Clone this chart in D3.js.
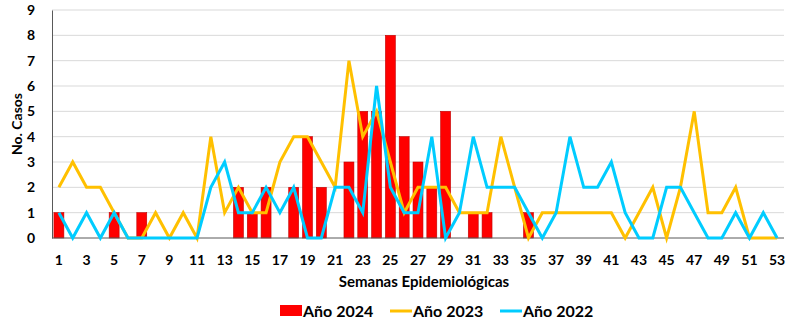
<!DOCTYPE html>
<html>
<head>
<meta charset="utf-8">
<script src="https://cdn.jsdelivr.net/npm/d3@7"></script>
<style>
  body { margin: 0; background: #fff; }
  text { font-family: Lato, "Open Sans", sans-serif; font-weight: bold; fill: #000; }
</style>
</head>
<body>
<div id="chart"></div>
<script>
// weeks 1..53
const weeks = d3.range(1, 54);

// Año 2024 (bars) - weeks 1..35
const cases2024 = [1,0,0,0,1,0,1,0,0,0,0,0,0,2,1,2,0,2,4,2,0,3,5,5,8,4,3,2,5,0,1,1,0,0,1];

// Año 2023 (orange line)
const cases2023 = [2,3,2,2,1,0,0,1,0,1,0,4,1,2,1,1,3,4,4,3,2,7,4,5,3,1,2,2,2,1,1,1,4,2,0,1,1,1,1,1,1,0,1,2,0,2,5,1,1,2,0,0,0];

// Año 2022 (cyan line)
const cases2022 = [1,0,1,0,1,0,0,0,0,0,0,2,3,1,1,2,1,2,0,0,2,2,1,6,2,1,1,4,0,1,4,2,2,2,1,0,1,4,2,2,3,1,0,0,2,2,1,0,0,1,0,1,0];

const yTicks = d3.range(0, 10);
const xTicks = weeks.filter(w => w % 2 === 1);

const width = 787, height = 325,
      margin = ({ top: 10, right: 3, bottom: 87, left: 52 });

let svg = d3.select("#chart")
    .append("svg")
    .attr("width", width)
    .attr("height", height);

let x = d3.scaleBand() // one band per week
    .domain(weeks)
    .range([margin.left, width - margin.right]);

let y = d3.scaleLinear()
    .domain([0, 9])
    .range([height - margin.bottom, margin.top]);

// gridlines
svg.append("g")
    .selectAll("line")
    .data(yTicks.filter(t => t > 0))
    .join("line")
    .attr("x1", margin.left)
    .attr("x2", width - margin.right)
    .attr("y1", d => y(d))
    .attr("y2", d => y(d))
    .attr("stroke", "#d9d9d9")
    .attr("stroke-width", 1);

// y axis
let yAxis = svg.append("g")
    .attr("transform", `translate(${margin.left},0)`)
    .call(d3.axisLeft(y).tickValues(yTicks).tickSize(0).tickPadding(17).tickFormat(d3.format("d")));
yAxis.select(".domain").attr("stroke", "#595959");
yAxis.selectAll("text").style("font-size", "14px");

// bars 2024
let bw = x.bandwidth() * 0.72;
svg.append("g")
    .selectAll("rect")
    .data(cases2024.map((v, i) => ({ week: weeks[i], num: v })).filter(d => d.num > 0))
    .join("rect")
    .attr("x", d => x(d.week) + (x.bandwidth() - bw) / 2)
    .attr("width", bw)
    .attr("y", d => y(d.num))
    .attr("height", d => y(0) - y(d.num))
    .attr("fill", "#ff0000")
    .attr("stroke", "#c00000")
    .attr("stroke-width", 0.6);

// x axis
let xAxis = svg.append("g")
    .attr("transform", `translate(0,${y(0)})`)
    .call(d3.axisBottom(x).tickValues(xTicks).tickSize(0).tickPadding(17));
xAxis.select(".domain").remove();
xAxis.selectAll("text").style("font-size", "14px");
svg.append("line")
    .attr("x1", margin.left)
    .attr("x2", width - margin.right)
    .attr("y1", y(0))
    .attr("y2", y(0))
    .attr("stroke", "#595959");

// lines
let line = d3.line()
    .x((d, i) => x(weeks[i]) + x.bandwidth() / 2)
    .y(d => y(d));

svg.append("path")
    .datum(cases2023)
    .attr("fill", "none")
    .attr("stroke", "#ffc000")
    .attr("stroke-width", 3)
    .attr("stroke-linejoin", "miter")
    .attr("d", line);

svg.append("path")
    .datum(cases2022)
    .attr("fill", "none")
    .attr("stroke", "#00ccff")
    .attr("stroke-width", 3)
    .attr("d", line);

// axis titles
svg.append("text")
    .attr("transform", `translate(22,${(y(0) + y(9)) / 2}) rotate(-90)`)
    .attr("text-anchor", "middle")
    .style("font-size", "14px")
    .text("No. Casos");

svg.append("text")
    .attr("x", 424)
    .attr("y", 287)
    .attr("text-anchor", "middle")
    .style("font-size", "15px")
    .text("Semanas Epidemiológicas");

// legend
const legendItems = [
  { label: "Año 2024", color: "#ff0000", type: "rect", x: 280 },
  { label: "Año 2023", color: "#ffc000", type: "line", x: 390 },
  { label: "Año 2022", color: "#00ccff", type: "line", x: 500 }
];
let legend = svg.append("g")
    .selectAll("g")
    .data(legendItems)
    .join("g")
    .attr("transform", d => `translate(${d.x},311)`);

legend.filter(d => d.type === "rect").append("rect")
    .attr("x", 0).attr("y", -6).attr("width", 22).attr("height", 11)
    .attr("fill", d => d.color);
legend.filter(d => d.type === "line").append("line")
    .attr("x1", 0).attr("x2", 22).attr("y1", 0).attr("y2", 0)
    .attr("stroke", d => d.color).attr("stroke-width", 3);
legend.append("text")
    .attr("x", 23)
    .attr("y", 6)
    .style("font-size", "16px")
    .text(d => d.label);
</script>
</body>
</html>
